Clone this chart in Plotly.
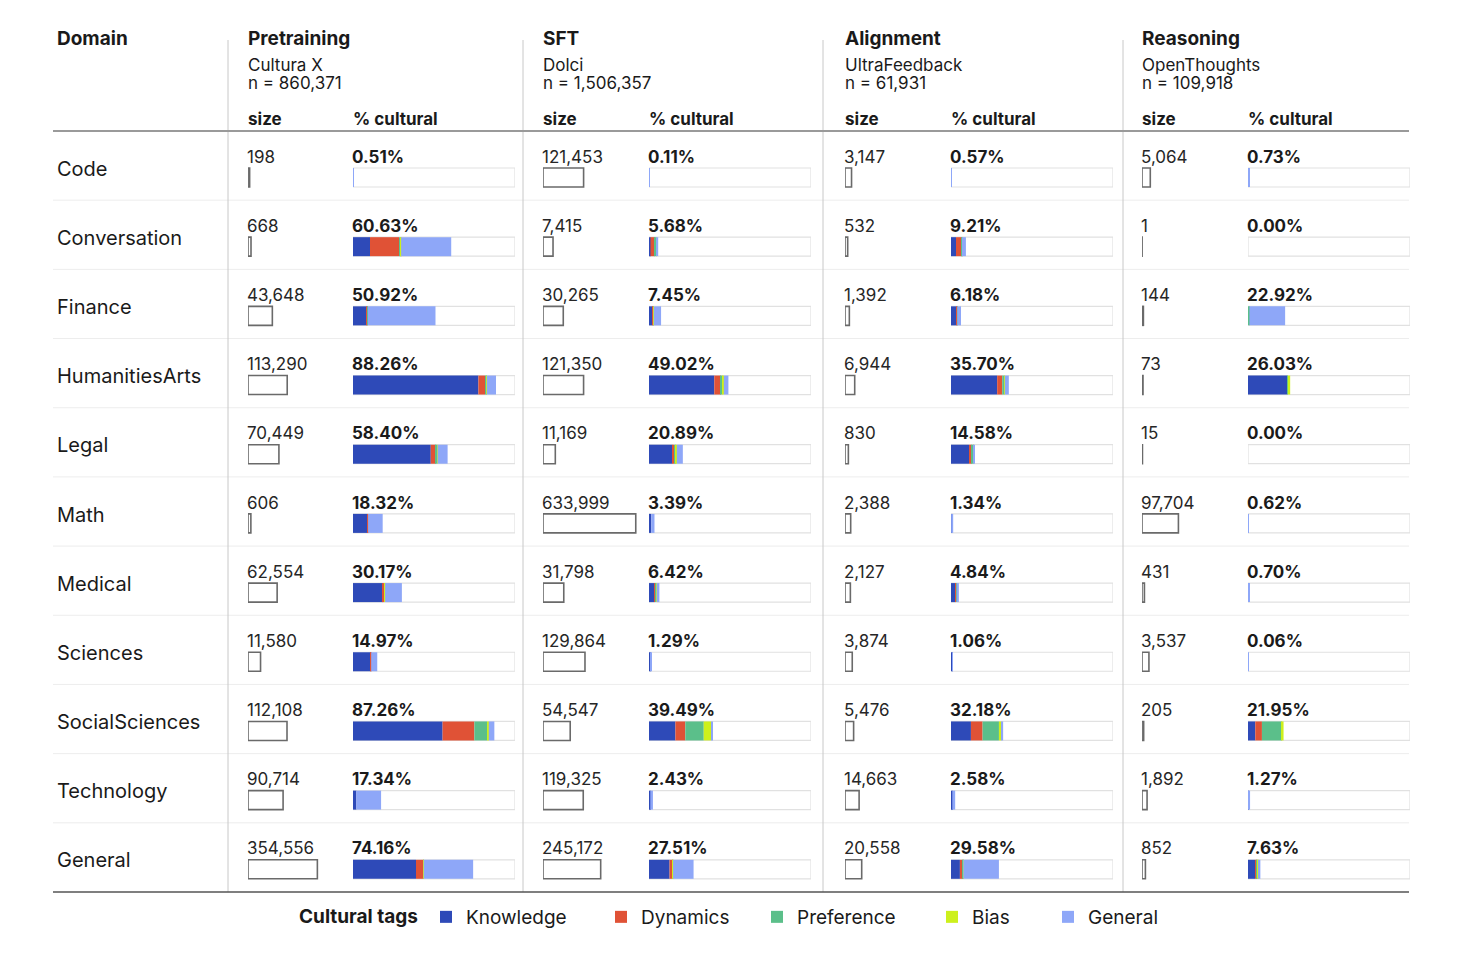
import plotly.graph_objects as go

W, H = 1480, 974
PAD = 8                      # page body margin of the browser
FW, FH = W - 2 * PAD, H - 2 * PAD
FONT = "Inter"

domains = ["Code", "Conversation", "Finance", "HumanitiesArts", "Legal", "Math",
           "Medical", "Sciences", "SocialSciences", "Technology", "General"]

col_titles = ["Pretraining", "SFT", "Alignment", "Reasoning"]
col_datasets = ["Cultura X", "Dolci", "UltraFeedback", "OpenThoughts"]
col_n = ["n = 860,371", "n = 1,506,357", "n = 61,931", "n = 109,918"]

tags = ["Knowledge", "Dynamics", "Preference", "Bias", "General"]
tag_colors = ["#2e4ab8", "#e05236", "#5bbf8a", "#cdf01c", "#8ea7f8"]

# sizes per stage
pre_size = [198, 668, 43648, 113290, 70449, 606, 62554, 11580, 112108, 90714, 354556]
sft_size = [121453, 7415, 30265, 121350, 11169, 633999, 31798, 129864, 54547, 119325, 245172]
ali_size = [3147, 532, 1392, 6944, 830, 2388, 2127, 3874, 5476, 14663, 20558]
rea_size = [5064, 1, 144, 73, 15, 97704, 431, 3537, 205, 1892, 852]

# % cultural per stage
pre_pct = [0.51, 60.63, 50.92, 88.26, 58.40, 18.32, 30.17, 14.97, 87.26, 17.34, 74.16]
sft_pct = [0.11, 5.68, 7.45, 49.02, 20.89, 3.39, 6.42, 1.29, 39.49, 2.43, 27.51]
ali_pct = [0.57, 9.21, 6.18, 35.70, 14.58, 1.34, 4.84, 1.06, 32.18, 2.58, 29.58]
rea_pct = [0.73, 0.00, 22.92, 26.03, 0.00, 0.62, 0.70, 0.06, 21.95, 1.27, 7.63]

# cultural tag breakdown (percentage points of each domain), per stage
pre_knowledge  = [0.10, 10.5, 8.5, 77.4, 48.0, 9.2, 18.5, 11.1, 55.3, 2.1, 38.9]
pre_dynamics   = [0.00, 17.9, 0.5, 4.2, 3.1, 0.1, 1.0, 0.1, 19.6, 0.0, 4.6]
pre_preference = [0.00, 1.0, 0.2, 0.8, 0.8, 0.0, 0.2, 0.0, 7.9, 0.0, 0.1]
pre_bias       = [0.00, 0.3, 0.0, 0.2, 0.3, 0.0, 0.1, 0.0, 1.0, 0.0, 0.06]
pre_general    = [0.41, 30.93, 41.72, 5.66, 6.2, 9.02, 10.37, 3.77, 3.46, 15.24, 30.5]

sft_knowledge  = [0.03, 0.9, 2.3, 40.3, 14.4, 1.4, 3.5, 0.9, 16.3, 0.8, 12.7]
sft_dynamics   = [0.00, 2.7, 0.5, 4.1, 1.1, 0.0, 0.8, 0.0, 6.1, 0.0, 2.0]
sft_preference = [0.00, 0.8, 0.1, 1.0, 0.9, 0.0, 0.3, 0.0, 11.4, 0.0, 0.1]
sft_bias       = [0.00, 0.2, 0.05, 0.8, 0.8, 0.0, 0.1, 0.0, 4.7, 0.0, 0.05]
sft_general    = [0.08, 1.08, 4.5, 2.82, 3.69, 1.99, 1.72, 0.39, 0.99, 1.63, 12.66]

ali_knowledge  = [0.07, 3.1, 3.6, 28.5, 11.1, 0.1, 3.0, 0.9, 12.3, 0.8, 5.5]
ali_dynamics   = [0.00, 3.6, 0.2, 3.1, 1.7, 0.0, 0.3, 0.0, 7.2, 0.0, 1.9]
ali_preference = [0.00, 0.1, 0.1, 1.4, 1.2, 0.0, 0.2, 0.0, 10.1, 0.0, 0.1]
ali_bias       = [0.00, 0.0, 0.0, 0.2, 0.1, 0.0, 0.0, 0.0, 1.6, 0.0, 0.1]
ali_general    = [0.50, 2.41, 2.28, 2.5, 0.48, 1.24, 1.34, 0.16, 0.98, 1.78, 21.98]

rea_knowledge  = [0.05, 0.0, 0.0, 24.3, 0.0, 0.0, 0.0, 0.0, 4.5, 0.3, 4.4]
rea_dynamics   = [0.00, 0.0, 0.0, 0.0, 0.0, 0.0, 0.0, 0.0, 4.1, 0.0, 0.9]
rea_preference = [0.00, 0.0, 0.9, 0.3, 0.0, 0.0, 0.5, 0.0, 12.35, 0.0, 0.5]
rea_bias       = [0.00, 0.0, 0.0, 1.43, 0.0, 0.0, 0.0, 0.0, 1.0, 0.0, 0.4]
rea_general    = [0.68, 0.0, 22.02, 0.0, 0.0, 0.62, 0.2, 0.06, 0.0, 0.97, 1.43]

stages = [
    (pre_size, pre_pct, [pre_knowledge, pre_dynamics, pre_preference, pre_bias, pre_general]),
    (sft_size, sft_pct, [sft_knowledge, sft_dynamics, sft_preference, sft_bias, sft_general]),
    (ali_size, ali_pct, [ali_knowledge, ali_dynamics, ali_preference, ali_bias, ali_general]),
    (rea_size, rea_pct, [rea_knowledge, rea_dynamics, rea_preference, rea_bias, rea_general]),
]

# ---------------- layout geometry (page pixels) ----------------
col_left = [248, 543, 845, 1142]        # size column left
track_left = [353, 649, 951, 1248]      # % cultural bar left
track_w = 162
size_px_per_sqrt = 0.1165
size_dom_w = 100
vlines = [228, 523, 823, 1123]
table_left, table_right = 53, 1409
header_y, bottom_y = 131, 892
row_h = (bottom_y - header_y) / len(domains)
legend_text_x = [467, 642, 798, 973, 1089]

def px(x):
    return (x - PAD) / FW

def py(y):
    return 1 - (y - PAD) / FH

bar_off = 2.4 / row_h
bar_w = 19 / row_h

fig = go.Figure()
layout_axes = {}
legend_ids = ["legend", "legend2", "legend3", "legend4", "legend5"]

for ci, (sizes, pcts, segs) in enumerate(stages):
    bx = "x" if ci == 0 else f"x{ci + 1}"
    sx = f"x{ci + 5}"
    # track
    fig.add_trace(go.Bar(
        x=[100] * len(domains), y=domains, base=0, orientation="h",
        xaxis=bx, yaxis="y", width=bar_w, offset=bar_off,
        marker=dict(color="white", line=dict(color="#e1e1e1", width=1.2)),
        showlegend=False, hoverinfo="skip"))
    # stacked segments
    cum = [0.0] * len(domains)
    for ti, (tag, color) in enumerate(zip(tags, tag_colors)):
        vals = segs[ti]
        fig.add_trace(go.Bar(
            x=vals, y=domains, base=list(cum), orientation="h",
            xaxis=bx, yaxis="y", width=bar_w, offset=bar_off,
            marker=dict(color=color, line=dict(width=0)),
            name=tag, legendgroup=tag, legend=legend_ids[ti], showlegend=(ci == 0),
            hovertemplate=f"{tag}: %{{x:.2f}}%<extra></extra>"))
        cum = [c + v for c, v in zip(cum, vals)]
    # size boxes (width ~ sqrt(size))
    fig.add_trace(go.Bar(
        x=[s ** 0.5 for s in sizes], y=domains, base=0, orientation="h",
        xaxis=sx, yaxis="y", width=bar_w, offset=bar_off,
        marker=dict(color="white", line=dict(color="#6a6a6a", width=1.6)),
        showlegend=False, customdata=sizes,
        hovertemplate="size: %{customdata:,}<extra></extra>"))

    key_b = "xaxis" if ci == 0 else f"xaxis{ci + 1}"
    layout_axes[key_b] = dict(domain=[px(track_left[ci]), px(track_left[ci] + track_w)],
                              range=[0, 100], visible=False, anchor="y", fixedrange=True)
    layout_axes[f"xaxis{ci + 5}"] = dict(domain=[px(col_left[ci]), px(col_left[ci] + size_dom_w)],
                                         range=[0, size_dom_w / size_px_per_sqrt],
                                         visible=False, anchor="y", fixedrange=True)

annotations = []
TXT = "#1a1a1a"

def paper_text(text, x, y, size):
    return dict(text=text, x=px(x), y=py(y), xref="paper", yref="paper",
                xanchor="left", yanchor="middle", showarrow=False,
                font=dict(size=size, color=TXT, family=FONT))

# header
annotations.append(paper_text("<b>Domain</b>", 55, 39, 19))
for ci in range(4):
    annotations.append(paper_text(f"<b>{col_titles[ci]}</b>", col_left[ci] - 2, 39, 19))
    annotations.append(paper_text(col_datasets[ci], col_left[ci] - 2, 65, 17))
    annotations.append(paper_text(col_n[ci], col_left[ci] - 2, 83, 17))
    annotations.append(paper_text("<b>size</b>", col_left[ci] - 2, 119, 17))
    annotations.append(paper_text("<b>% cultural</b>", track_left[ci] - 2, 119, 17))

# domain labels and cell values
for ri, d in enumerate(domains):
    annotations.append(dict(text=d, x=px(55), y=d, xref="paper", yref="y",
                            xanchor="left", yanchor="middle", yshift=-3, showarrow=False,
                            font=dict(size=20, color=TXT, family=FONT)))
for ci, (sizes, pcts, segs) in enumerate(stages):
    bx = "x" if ci == 0 else f"x{ci + 1}"
    sx = f"x{ci + 5}"
    for ri, d in enumerate(domains):
        annotations.append(dict(text=f"{sizes[ri]:,}", x=0, y=d, xref=sx, yref="y",
                                xanchor="left", yanchor="middle", xshift=-3, yshift=9,
                                showarrow=False, font=dict(size=17, color="#262626", family=FONT)))
        annotations.append(dict(text=f"<b>{pcts[ri]:.2f}%</b>", x=0, y=d, xref=bx, yref="y",
                                xanchor="left", yanchor="middle", xshift=-3, yshift=9,
                                showarrow=False, font=dict(size=17, color=TXT, family=FONT)))

shapes = []
# row separators
for ri in range(1, len(domains)):
    shapes.append(dict(type="line", xref="paper", yref="y", x0=px(table_left), x1=px(table_right),
                       y0=ri - 0.5, y1=ri - 0.5, line=dict(color="#ededed", width=1)))
# vertical separators
for vx in vlines:
    shapes.append(dict(type="line", xref="paper", yref="paper", x0=px(vx), x1=px(vx),
                       y0=py(40), y1=py(bottom_y), line=dict(color="#c8c8c8", width=1)))
# header & bottom rules
shapes.append(dict(type="line", xref="paper", yref="paper", x0=px(table_left), x1=px(table_right),
                   y0=py(header_y), y1=py(header_y), line=dict(color="#9a9a9a", width=2)))
shapes.append(dict(type="line", xref="paper", yref="paper", x0=px(table_left), x1=px(table_right),
                   y0=py(bottom_y), y1=py(bottom_y), line=dict(color="#555555", width=1.5)))

legends = {}
for li, lid in enumerate(legend_ids):
    cfg = dict(orientation="h", y=py(917), xanchor="left", yanchor="middle",
               font=dict(size=19, color=TXT, family=FONT),
               itemwidth=30, bgcolor="rgba(0,0,0,0)")
    if li == 0:
        cfg["x"] = px(297)
        cfg["title"] = dict(text="<b>Cultural tags</b>", side="left",
                            font=dict(size=19, color=TXT, family=FONT))
    else:
        cfg["x"] = px(legend_text_x[li] - 41)
    legends[lid] = cfg

fig.update_layout(
    width=FW, height=FH,
    margin=dict(l=0, r=0, t=0, b=0),
    paper_bgcolor="white", plot_bgcolor="rgba(0,0,0,0)",
    barmode="overlay",
    font=dict(family=FONT, color=TXT),
    yaxis=dict(domain=[py(bottom_y), py(header_y)], range=[len(domains) - 0.5, -0.5],
               visible=False, fixedrange=True, type="category", categoryorder="array",
               categoryarray=domains),
    annotations=annotations,
    shapes=shapes,
    showlegend=True,
    **legends,
    **layout_axes,
)

fig.write_html("out.html")
